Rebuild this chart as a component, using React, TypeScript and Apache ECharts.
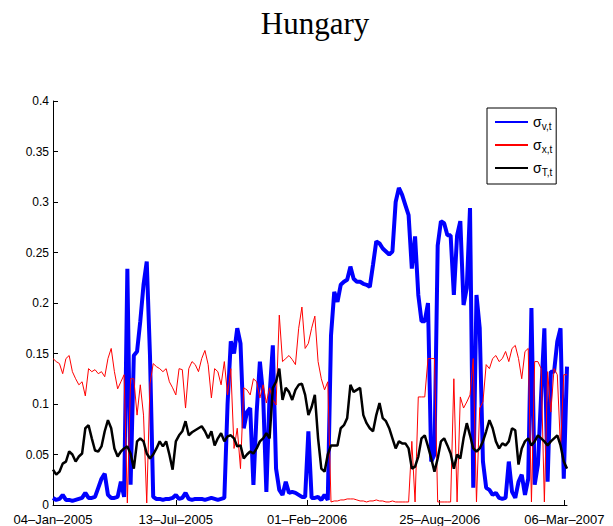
import React, { useEffect, useRef } from "react";
import * as echarts from "echarts";

// x: days since 04-Jan-2005, sampled every STEP_DAYS days
const STEP_DAYS = 5;
const X_MAX = 795;
const tickDays = [0, 190, 393, 598, 791];
const tickLabels = ["04–Jan–2005", "13–Jul–2005", "01–Feb–2006", "25–Aug–2006", "06–Mar–2007"];

const sigmaV = [
  0.007, 0.005, 0.006, 0.010, 0.005, 0.005, 0.004, 0.005, 0.006, 0.007,
  0.012, 0.007, 0.007, 0.008, 0.017, 0.026, 0.031, 0.010, 0.007, 0.007,
  0.008, 0.023, 0.008, 0.234, 0.020, 0.148, 0.152, 0.182, 0.218, 0.241,
  0.148, 0.008, 0.006, 0.006, 0.005, 0.006, 0.006, 0.007, 0.010, 0.006,
  0.007, 0.012, 0.006, 0.005, 0.006, 0.006, 0.006, 0.005, 0.006, 0.007,
  0.006, 0.005, 0.006, 0.007, 0.100, 0.162, 0.150, 0.175, 0.160, 0.076,
  0.092, 0.096, 0.020, 0.092, 0.142, 0.109, 0.013, 0.109, 0.158, 0.036,
  0.015, 0.010, 0.023, 0.012, 0.013, 0.012, 0.010, 0.008, 0.008, 0.073,
  0.007, 0.007, 0.008, 0.005, 0.010, 0.005, 0.168, 0.211, 0.201, 0.218,
  0.221, 0.223, 0.236, 0.224, 0.221, 0.221, 0.219, 0.218, 0.216, 0.238,
  0.261, 0.259, 0.254, 0.251, 0.248, 0.251, 0.300, 0.314, 0.307, 0.297,
  0.287, 0.234, 0.266, 0.208, 0.182, 0.182, 0.200, 0.043, 0.050, 0.257,
  0.281, 0.279, 0.267, 0.267, 0.208, 0.267, 0.281, 0.198, 0.215, 0.294,
  0.017, 0.208, 0.175, 0.043, 0.017, 0.015, 0.010, 0.012, 0.007, 0.006,
  0.007, 0.043, 0.013, 0.007, 0.023, 0.030, 0.010, 0.026, 0.195, 0.020,
  0.040, 0.109, 0.175, 0.023, 0.132, 0.132, 0.162, 0.175, 0.026, 0.137,
];

const sigmaX = [
  0.145, 0.142, 0.140, 0.130, 0.145, 0.148, 0.132, 0.125, 0.119, 0.122,
  0.108, 0.135, 0.132, 0.134, 0.130, 0.132, 0.127, 0.145, 0.155, 0.132,
  0.115, 0.122, 0.129, 0.002, 0.125, 0.125, 0.089, 0.119, 0.089, 0.002,
  0.120, 0.140, 0.137, 0.135, 0.132, 0.135, 0.122, 0.116, 0.109, 0.135,
  0.134, 0.096, 0.135, 0.142, 0.139, 0.132, 0.145, 0.153, 0.139, 0.106,
  0.135, 0.132, 0.119, 0.142, 0.109, 0.135, 0.056, 0.076, 0.036, 0.116,
  0.114, 0.109, 0.125, 0.122, 0.106, 0.119, 0.101, 0.116, 0.104, 0.099,
  0.188, 0.142, 0.145, 0.148, 0.144, 0.139, 0.175, 0.196, 0.155, 0.160,
  0.175, 0.187, 0.142, 0.125, 0.114, 0.122, 0.003, 0.004, 0.004, 0.005,
  0.005, 0.006, 0.006, 0.006, 0.005, 0.004, 0.004, 0.003, 0.004, 0.004,
  0.005, 0.004, 0.004, 0.003, 0.003, 0.004, 0.003, 0.003, 0.003, 0.003,
  0.003, 0.063, 0.003, 0.107, 0.107, 0.107, 0.145, 0.145, 0.145, 0.003,
  0.003, 0.003, 0.003, 0.003, 0.125, 0.003, 0.107, 0.096, 0.102, 0.109,
  0.145, 0.003, 0.096, 0.102, 0.139, 0.135, 0.145, 0.148, 0.142, 0.145,
  0.152, 0.142, 0.155, 0.158, 0.145, 0.125, 0.152, 0.155, 0.003, 0.142,
  0.142, 0.135, 0.003, 0.132, 0.092, 0.135, 0.129, 0.056, 0.129, 0.129,
];

const sigmaT = [
  0.035, 0.030, 0.033, 0.041, 0.043, 0.053, 0.050, 0.043, 0.048, 0.051,
  0.076, 0.079, 0.066, 0.054, 0.053, 0.058, 0.073, 0.084, 0.076, 0.056,
  0.048, 0.053, 0.056, 0.058, 0.051, 0.036, 0.063, 0.066, 0.063, 0.051,
  0.046, 0.050, 0.056, 0.063, 0.058, 0.063, 0.050, 0.035, 0.063, 0.069,
  0.073, 0.083, 0.069, 0.072, 0.074, 0.076, 0.078, 0.073, 0.066, 0.073,
  0.059, 0.066, 0.071, 0.063, 0.068, 0.069, 0.066, 0.058, 0.059, 0.046,
  0.050, 0.053, 0.051, 0.056, 0.063, 0.066, 0.071, 0.066, 0.116, 0.122,
  0.135, 0.104, 0.116, 0.112, 0.104, 0.114, 0.119, 0.120, 0.109, 0.089,
  0.097, 0.109, 0.066, 0.036, 0.033, 0.050, 0.059, 0.059, 0.059, 0.076,
  0.079, 0.086, 0.119, 0.112, 0.114, 0.116, 0.089, 0.081, 0.076, 0.073,
  0.089, 0.101, 0.086, 0.083, 0.076, 0.066, 0.056, 0.063, 0.061, 0.061,
  0.056, 0.036, 0.038, 0.048, 0.066, 0.069, 0.058, 0.046, 0.033, 0.046,
  0.063, 0.066, 0.059, 0.051, 0.036, 0.050, 0.046, 0.066, 0.081, 0.069,
  0.056, 0.053, 0.056, 0.063, 0.073, 0.084, 0.076, 0.063, 0.056, 0.061,
  0.059, 0.063, 0.076, 0.074, 0.040, 0.056, 0.063, 0.066, 0.059, 0.063,
  0.069, 0.066, 0.063, 0.059, 0.063, 0.066, 0.069, 0.059, 0.043, 0.036,
];

const seriesNames = ["v,t", "x,t", "T,t"];
const seriesColors = ["#0000ff", "#ff0000", "#000000"];
const seriesWidths = [4, 1, 2.5];
const seriesValues = [sigmaV, sigmaX, sigmaT];

const SANS = '"Liberation Sans", Arial, Helvetica, sans-serif';

export default function App() {
  const ref = useRef<HTMLDivElement>(null);
  useEffect(() => {
    if (!ref.current) return;
    const chart = echarts.init(ref.current, undefined, { renderer: "svg" });
    const fmtDay = (v: number) => {
      const i = tickDays.indexOf(Math.round(v));
      return i >= 0 ? tickLabels[i] : "";
    };
    chart.setOption({
      animation: false,
      backgroundColor: "#ffffff",
      title: {
        text: "Hungary",
        left: 310,
        top: 3,
        textAlign: "center",
        textStyle: {
          fontFamily: '"Liberation Serif", "Times New Roman", serif',
          fontWeight: "normal",
          fontSize: 31,
          color: "#000",
        },
      },
      grid: { left: 53, right: 46, top: 101, bottom: 21, containLabel: false },
      legend: {
        orient: "vertical",
        left: 487,
        top: 108,
        padding: [7, 4, 7, 7],
        itemWidth: 33,
        itemHeight: 14,
        itemGap: 7,
        borderColor: "#000",
        borderWidth: 1,
        backgroundColor: "#fff",
        data: seriesNames,
        itemStyle: { opacity: 0 },
        formatter: (name: string) => `{s|σ}{sub|${name}}`,
        textStyle: {
          rich: {
            s: { fontFamily: SANS, fontSize: 14, color: "#000", lineHeight: 18, verticalAlign: "middle" },
            sub: { fontFamily: SANS, fontSize: 10, color: "#000", lineHeight: 18, verticalAlign: "bottom" },
          },
        },
      },
      xAxis: {
        type: "value",
        min: 0,
        max: X_MAX,
        splitLine: { show: false },
        axisLine: { show: true, onZero: false, lineStyle: { color: "#000", width: 1 } },
        axisTick: { show: true, inside: true, length: 5, customValues: tickDays, lineStyle: { color: "#000" } },
        axisLabel: {
          customValues: tickDays,
          formatter: fmtDay,
          fontFamily: SANS,
          fontSize: 13,
          color: "#000",
          margin: 8,
        },
      },
      yAxis: {
        type: "value",
        min: 0,
        max: 0.4,
        interval: 0.05,
        splitLine: { show: false },
        axisLine: { show: true, lineStyle: { color: "#000", width: 1 } },
        axisTick: { show: true, inside: true, length: 5, lineStyle: { color: "#000" } },
        axisLabel: {
          formatter: (v: number) => String(parseFloat(v.toFixed(2))),
          fontFamily: SANS,
          fontSize: 12,
          color: "#000",
          margin: 4,
        },
      },
      series: seriesNames.map((name, si) => ({
        name,
        type: "line",
        symbol: "none",
        z: 2 + si,
        lineStyle: { color: seriesColors[si], width: seriesWidths[si] },
        itemStyle: { color: seriesColors[si] },
        data: seriesValues[si].map((v, i) => [i * STEP_DAYS, v]),
      })),
    });
    return () => chart.dispose();
  }, []);
  return (
    <div
      ref={ref}
      style={{ position: "fixed", left: 0, top: 0, width: 613, height: 526, background: "#fff" }}
    />
  );
}
